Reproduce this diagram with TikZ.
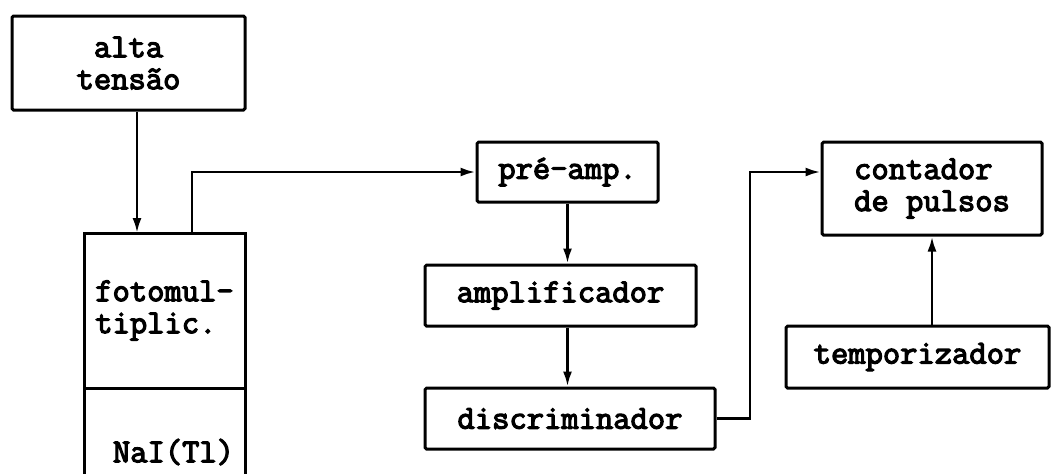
\documentclass[tikz,border=0pt]{standalone}
\usepackage{fontspec}
\newfontfamily\blockfont{Latin Modern Mono}[FakeBold=3.6]
\usetikzlibrary{arrows.meta}
\begin{document}
\begin{tikzpicture}[x=0.5pt,y=-0.5pt,
  blk/.style={draw, line width=1.5pt, rounded corners=0.8pt, inner sep=0pt,
    font=\blockfont\fontsize{16.8pt}{16pt}\selectfont},
  lbl/.style={inner sep=0pt, font=\blockfont\fontsize{16.8pt}{16pt}\selectfont},
  wire/.style={line width=1.3pt},
  flow/.style={wire, -{Latex[length=7.5pt,width=4.5pt]}}]
\useasboundingbox (0,0) rectangle (1052,473);

% blocks
\node[blk, minimum width=116.5pt, minimum height=47pt, align=center] (alta) at (128.5,63) {alta\\tensão};
\node[blk, sharp corners, outer sep=0pt, minimum width=80.5pt, minimum height=77.5pt, align=left] (foto) at (164.5,310.5) {fotomul-\\tiplic.};
\node[lbl] (nai) at (173.5,452) {NaI(Tl)};
\node[blk, minimum width=90.5pt, minimum height=30pt] (pre) at (567.5,172) {pré-amp.};
\node[blk, minimum width=135.5pt, minimum height=30.5pt] (amp) at (560.5,295.5) {amplificador};
\node[blk, minimum width=145pt, minimum height=30.5pt] (disc) at (570,418.5) {discriminador};
\node[blk, minimum width=110pt, minimum height=46.5pt, align=left] (cont) at (932,188.5) {contador\\de pulsos};
\node[blk, minimum width=131.5pt, minimum height=31pt] (temp) at (917.5,357) {temporizador};

% crystal housing below the photomultiplier, open at the bottom
\draw[line width=1.5pt] (foto.south west) -- ++(0,90);
\draw[line width=1.5pt] (foto.south east) -- ++(0,90);

% connectors
\coordinate (hv) at (137,0);
\draw[flow] (alta.south -| hv) -- (foto.north -| hv);
\coordinate (fo) at (192,0);
\coordinate (pin) at (0,172);
\draw[flow] (foto.north -| fo) |- (pre.west |- pin);
\draw[flow] (pre.south) -- (pre.south |- amp.north);
\draw[flow] (pre.south |- amp.south) -- (pre.south |- disc.north);
\coordinate (up) at (750,0);
\coordinate (cin) at (0,172);
\draw[flow] (disc.east) -- (disc.east -| up) -- (up |- cin) -- (cont.west |- cin);
\draw[flow] (cont.south |- temp.north) -- (cont.south);
\end{tikzpicture}
\end{document}
